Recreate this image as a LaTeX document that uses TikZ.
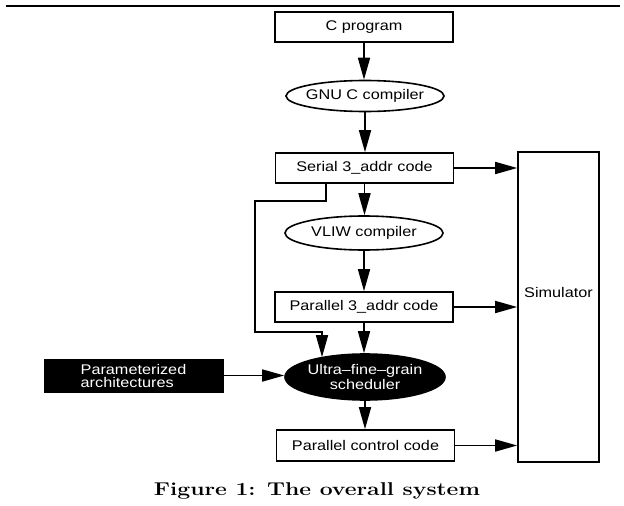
\documentclass[tikz,border=0pt]{standalone}
\usepackage{fontspec}
\usepackage{graphicx}
\newfontfamily\labfont{Liberation Sans}[FakeStretch=1.16]
\usetikzlibrary{shapes.geometric,arrows.meta,calc}
\begin{document}
\begin{tikzpicture}[x=1pt,y=-1pt,
  lab/.style={font=\labfont\fontsize{14}{13}\selectfont},
  boxn/.style={draw, line width=1.6pt, rectangle, minimum width=178pt, minimum height=30pt, inner sep=0pt, lab},
  ell/.style={draw, line width=1.6pt, ellipse, minimum width=158pt, minimum height=31pt, inner sep=0pt},
  arr/.style={line width=1.6pt, -{Triangle[length=22pt,width=12pt]}},
]
\useasboundingbox (0,0) rectangle (624,506);
\fill (6,5) rectangle (620,7);
\node[boxn] (cprog) at (364,27) {C program};
\node[ell, label={[lab]center:GNU C compiler}] (gnu) at (365,96) {};
\node[boxn] (serial) at (364.5,168) {Serial 3\_addr code};
\node[ell, minimum height=34pt, label={[lab]center:VLIW compiler}] (vliw) at (364,233) {};
\node[boxn] (p3) at (364,307) {Parallel 3\_addr code};
\node[ell, fill=black, minimum width=160pt, minimum height=46pt,
      label={[lab, text=white, align=center]center:Ultra–fine–grain\\scheduler}] (sched) at (365,377) {};
\node[boxn, minimum height=31pt] (ctrl) at (365.5,445.5) {Parallel control code};
\node[draw, fill=black, line width=1pt, minimum width=179pt, minimum height=33pt, inner sep=0pt,
      lab, text=white, align=left] (param) at (133.5,375.5) {Parameterized\\architectures};
\node[draw, line width=1.6pt, minimum width=81pt, minimum height=310pt, inner sep=0pt,
      label={[lab, yshift=15pt]center:Simulator}] (sim) at (558.5,307) {};
\node[font=\bfseries\fontsize{18.5}{22}\selectfont] (cap) at (317,491) {\scalebox{1.24}[1]{Figure 1: The overall system}};

\draw[arr] (cprog.south) -- (cprog.south |- gnu.north);
\draw[arr] (gnu.south) -- (gnu.south |- serial.north);
\draw[arr] (serial.south) -- (serial.south |- vliw.north);
\draw[arr] (vliw.south) -- (vliw.south |- p3.north);
\draw[arr] (p3.south) -- (p3.south |- sched.north);
\draw[arr] (sched.south) -- (sched.south |- ctrl.north);
\draw[arr] (serial.east) -- (serial.east -| sim.west);
\draw[arr] (p3.east) -- (p3.east -| sim.west);
\draw[arr] (ctrl.east) -- (ctrl.east -| sim.west);
\draw[arr] (param.east) -- (param.east -| sched.west);
\coordinate (fa) at (255,201);
\coordinate (fb) at (322,332);
\draw[arr] ([xshift=-38.5pt]serial.south) |- (fa) |- (fb) -- (fb |- sched.156.7);
\end{tikzpicture}
\end{document}
